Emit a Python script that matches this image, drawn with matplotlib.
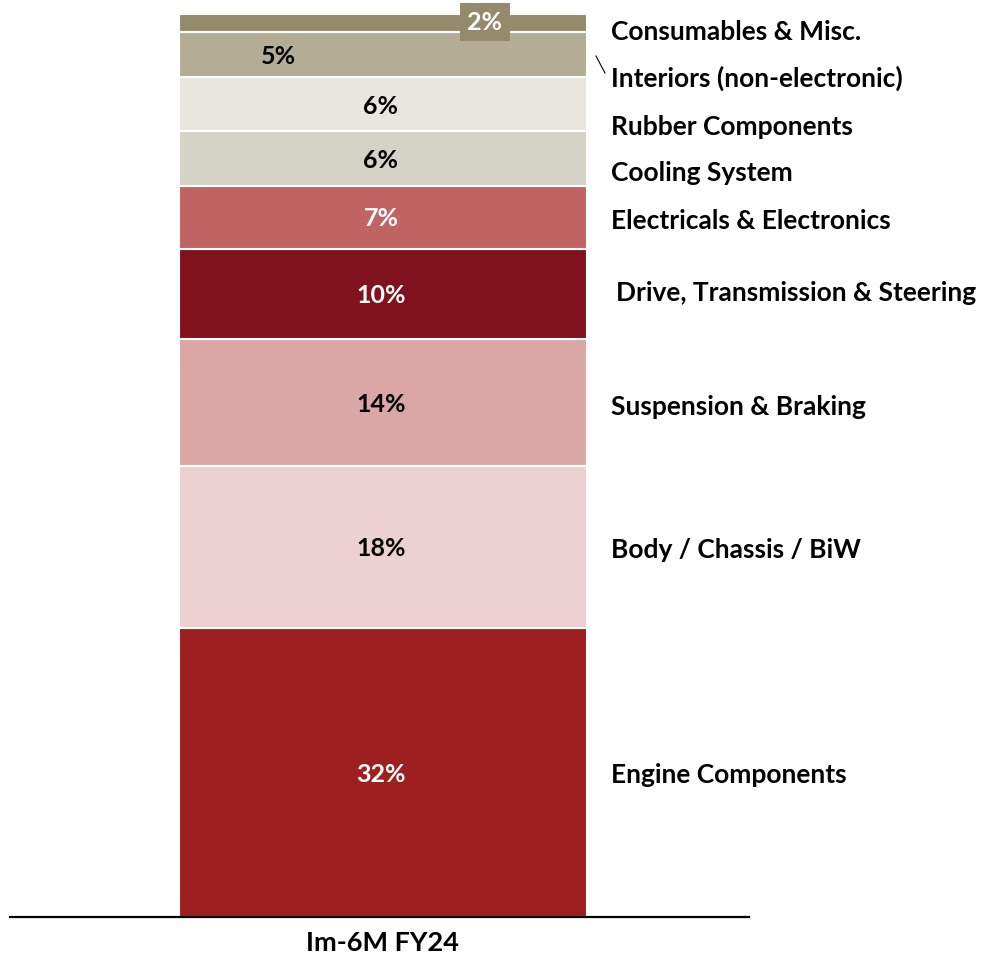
import matplotlib.pyplot as plt
import numpy as np
from matplotlib.lines import Line2D

plt.rcParams['font.family'] = ['Lato', 'DejaVu Sans']

# stacked from bottom to top
components = ['Engine Components', 'Body / Chassis / BiW', 'Suspension & Braking',
              'Drive, Transmission & Steering', 'Electricals & Electronics',
              'Cooling System', 'Rubber Components', 'Interiors (non-electronic)',
              'Consumables & Misc.']
shares = [32, 18, 14, 10, 7, 6, 6, 5, 2]
colors = ['#9E1F20', '#EDD1D2', '#DAA6A6', '#80121E', '#BF6463',
          '#D5D3C6', '#E9E6DF', '#B5AC96', '#958A6B']
text_colors = ['white', 'black', 'black', 'white', 'white',
               'black', 'black', 'black', 'white']
period = 'Im-6M FY24'

fig = plt.figure(figsize=(9.97, 9.59), dpi=100)
ax = fig.add_axes([10 / 997, 42 / 959, 739 / 997, 903 / 959])

bottoms = np.concatenate([[0], np.cumsum(shares)[:-1]])
ax.bar(0, shares, bottom=bottoms, width=1.0, color=colors,
       edgecolor='white', linewidth=1.5)

ax.set_xlim(-0.914, 0.897)
ax.set_ylim(0, sum(shares))

# value labels inside the segments
for i, (v, b) in enumerate(zip(shares, bottoms)):
    mid = b + v / 2 - 0.2
    if i == len(shares) - 1:
        ax.text(0.25, mid + 0.3, f'{v}%', ha='center', va='center',
                fontsize=18, fontweight='bold', color='white',
                bbox=dict(boxstyle='square,pad=0.3', fc=colors[i], ec='none'),
                clip_on=False)
    elif i == len(shares) - 2:
        ax.text(-0.255, mid, f'{v}%', ha='center', va='center',
                fontsize=18, fontweight='bold', color=text_colors[i])
    else:
        ax.text(-0.005, mid, f'{v}%', ha='center', va='center',
                fontsize=18, fontweight='bold', color=text_colors[i])

# category names on the right, spread out near the top
name_offsets = [-0.25, -0.4, -0.5, 0.1, -0.4, -1.6, -2.5, -2.6, -1.0]
for i, (name, v, b) in enumerate(zip(components, shares, bottoms)):
    x = 0.559 if i != 3 else 0.57
    ax.text(x, b + v / 2 + name_offsets[i], name, ha='left', va='center',
            fontsize=19, fontweight='bold', color='black', clip_on=False)

# small leader for the interiors segment
fig.add_artist(Line2D([596 / 997, 605 / 997], [1 - 56 / 959, 1 - 73 / 959],
                      color='black', linewidth=0.8))

for s in ['top', 'left', 'right']:
    ax.spines[s].set_visible(False)
ax.spines['bottom'].set_linewidth(1.6)
ax.set_yticks([])
ax.set_xticks([])

# period label under the bar
ax.text(0, -0.029, period, transform=ax.get_xaxis_transform(),
        ha='center', va='center', fontsize=19.5, fontweight='bold',
        clip_on=False)

fig.savefig('out.png', dpi=100)
